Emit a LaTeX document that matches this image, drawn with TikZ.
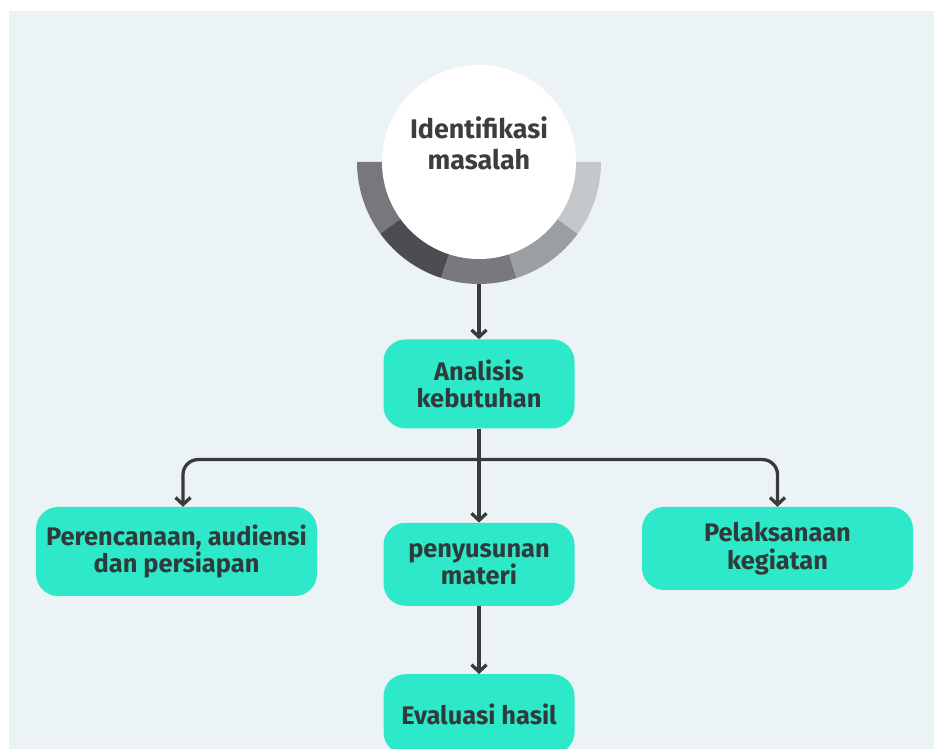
\documentclass[tikz,border=0pt]{standalone}
\usepackage{fontspec}
\setmainfont{Fira Sans}
\usetikzlibrary{positioning,calc,arrows.meta}
\definecolor{bgpanel}{HTML}{ECF3F6}
\definecolor{boxteal}{HTML}{2EE8CA}
\definecolor{inkgrey}{HTML}{3A3A3C}
\definecolor{boxtext}{HTML}{2F3B3A}
\definecolor{ringa}{HTML}{78777C}
\definecolor{ringb}{HTML}{4D4C51}
\definecolor{ringc}{HTML}{79787D}
\definecolor{ringd}{HTML}{9B9FA3}
\definecolor{ringe}{HTML}{C4C8CB}

\begin{document}
\begin{tikzpicture}[
    x=1bp, y=1bp,
    node distance=55bp,
    box/.style={rectangle, fill=boxteal, rounded corners=22bp, minimum width=191bp, minimum height=89bp, inner sep=0pt, align=center, text=boxtext, font=\fontsize{25.5}{28}\selectfont\bfseries},
    link/.style={draw=inkgrey, line width=3.3bp, -{Straight Barb[length=7bp,width=15bp]}},
    title/.style={circle, fill=white, minimum size=194bp, inner sep=0pt, align=center, text=black!76, font=\fontsize{27}{32}\selectfont\bfseries}
]
    \clip (0,0) rectangle (934,749);
    % Background panel
    \fill[white] (0,0) rectangle (934,749);
    \fill[bgpanel] (9,0) rectangle (934,738);

    % Ring around the title
    \node[circle, minimum size=244bp, inner sep=0pt] (ring) at (479,587) {};
    \foreach \a/\c in {180/ringa,216/ringb,252/ringc,288/ringd,324/ringe}
        \fill[\c] ($(ring.center)+(\a:96)$) arc[start angle=\a, end angle=\a+36, radius=96]
            -- ($(ring.center)+(\a+36:122)$) arc[start angle=\a+36, end angle=\a, radius=122] -- cycle;
    \node[title] (idmas) at (ring.center) {\raisebox{37bp}{\shortstack{Identifikasi\\[7bp]masalah}}};

    % Steps
    \node[box, below=55bp of ring] (anal) {Analisis\\kebutuhan};
    \node[box, below=94bp of anal, minimum height=83bp] (peny) {penyusunan\\materi};
    \node[box, minimum width=281bp] (pere) at (176.5,197.5) {Perencanaan, audiensi\\dan persiapan};
    \node[box, minimum width=271bp, minimum height=83bp] (pela) at (777.5,200.5) {Pelaksanaan\\kegiatan};
    \node[box, below=68bp of peny, minimum height=80bp] (eval) {Evaluasi hasil};

    % Edges
    \coordinate (split) at ($(anal.south)+(0,-31)$);
    \draw[link] (ring.south) -- (anal.north);
    \draw[link] (anal.south) -- (peny.north);
    \draw[link, rounded corners=15bp] (split) -| ([xshift=6.5bp]pere.north);
    \draw[link, rounded corners=15bp] (split) -| (pela.north);
    \draw[link] (peny.south) -- (eval.north);
\end{tikzpicture}
\end{document}
